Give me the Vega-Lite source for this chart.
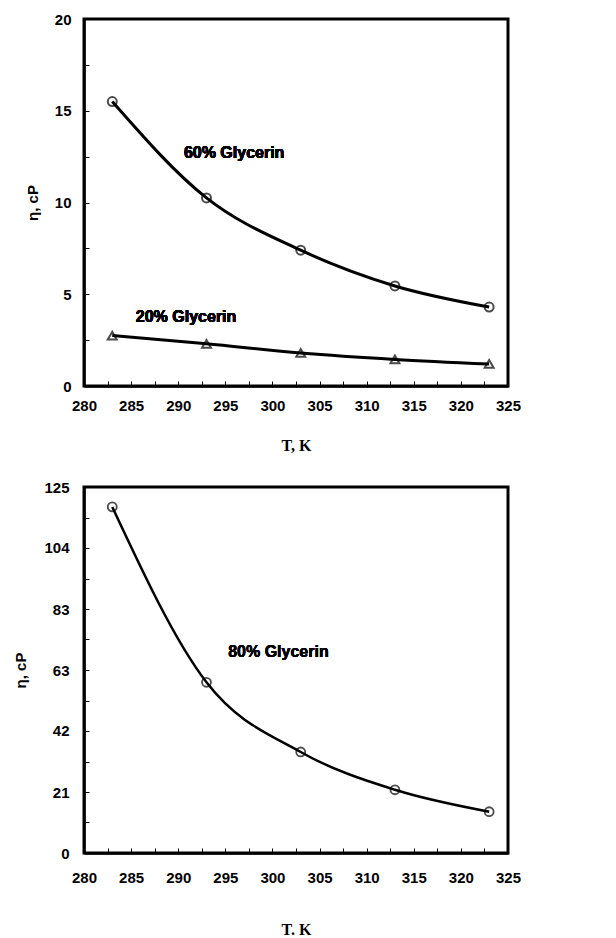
{
  "$schema": "https://vega.github.io/schema/vega-lite/v6.json",
  "background": "white",
  "padding": {"left": 12, "top": 10, "right": 0, "bottom": 0},
  "spacing": 23,
  "config": {
    "view": {"stroke": "black", "strokeWidth": 3},
    "axis": {
      "grid": false,
      "domainColor": "black",
      "domainWidth": 2.5,
      "tickColor": "black",
      "tickWidth": 1,
      "tickSize": -5,
      "labelFont": "Liberation Sans",
      "labelFontWeight": "bold",
      "labelFontSize": 15,
      "labelColor": "black",
      "labelFlush": false,
      "labelOverlap": false,
      "labelBound": false,
      "titleColor": "black"
    }
  },
  "datasets": {
    "top": [
      {"T": 283, "visc": 15.5, "series": "60% Glycerin"},
      {"T": 293, "visc": 10.25, "series": "60% Glycerin"},
      {"T": 303, "visc": 7.4, "series": "60% Glycerin"},
      {"T": 313, "visc": 5.45, "series": "60% Glycerin"},
      {"T": 323, "visc": 4.3, "series": "60% Glycerin"},
      {"T": 283, "visc": 2.75, "series": "20% Glycerin"},
      {"T": 293, "visc": 2.3, "series": "20% Glycerin"},
      {"T": 303, "visc": 1.8, "series": "20% Glycerin"},
      {"T": 313, "visc": 1.45, "series": "20% Glycerin"},
      {"T": 323, "visc": 1.2, "series": "20% Glycerin"}
    ],
    "bottom": [
      {"T": 283, "visc": 118.2, "series": "80% Glycerin"},
      {"T": 293, "visc": 58.3, "series": "80% Glycerin"},
      {"T": 303, "visc": 34.5, "series": "80% Glycerin"},
      {"T": 313, "visc": 21.6, "series": "80% Glycerin"},
      {"T": 323, "visc": 14.1, "series": "80% Glycerin"}
    ]
  },
  "vconcat": [
    {
      "width": 424,
      "height": 367,
      "data": {"name": "top"},
      "encoding": {
        "x": {
          "field": "T", "type": "quantitative",
          "scale": {"domain": [280, 325], "nice": false, "zero": false},
          "axis": {
            "title": "T, K",
            "titleFont": "Liberation Serif", "titleFontWeight": "bold", "titleFontSize": 16,
            "titlePadding": 24,
            "values": [280, 282.5, 285, 287.5, 290, 292.5, 295, 297.5, 300, 302.5, 305, 307.5, 310, 312.5, 315, 317.5, 320, 322.5, 325],
            "labelExpr": "datum.value % 5 == 0 ? datum.label : ''",
            "labelPadding": 17
          }
        },
        "y": {
          "field": "visc", "type": "quantitative",
          "scale": {"domain": [0, 20], "nice": false},
          "axis": {
            "title": "η, cP",
            "titleFont": "Liberation Sans", "titleFontWeight": "bold", "titleFontSize": 15,
            "titlePadding": 14,
            "values": [0, 2.5, 5, 7.5, 10, 12.5, 15, 17.5, 20],
            "labelExpr": "datum.value % 5 == 0 ? datum.label : ''",
            "labelPadding": 18
          }
        }
      },
      "layer": [
        {
          "mark": {"type": "line", "interpolate": "monotone", "strokeWidth": 3, "color": "black"},
          "encoding": {"detail": {"field": "series"}}
        },
        {
          "mark": {"type": "point", "filled": false, "size": 80, "strokeWidth": 2, "color": "black"},
          "encoding": {
            "shape": {
              "field": "series",
              "scale": {"domain": ["60% Glycerin", "20% Glycerin"], "range": ["circle", "triangle-up"]},
              "legend": null
            }
          }
        },
        {
          "mark": {"type": "text", "text": "60% Glycerin", "align": "left", "baseline": "middle", "font": "Liberation Sans", "fontWeight": "bold", "fontSize": 16, "color": "black"},
          "encoding": {"x": {"datum": 290.6}, "y": {"datum": 12.7}}
        },
        {
          "mark": {"type": "text", "text": "20% Glycerin", "align": "left", "baseline": "middle", "font": "Liberation Sans", "fontWeight": "bold", "fontSize": 16, "color": "black"},
          "encoding": {"x": {"datum": 285.5}, "y": {"datum": 3.76}}
        }
      ]
    },
    {
      "width": 424,
      "height": 366,
      "data": {"name": "bottom"},
      "encoding": {
        "x": {
          "field": "T", "type": "quantitative",
          "scale": {"domain": [280, 325], "nice": false, "zero": false},
          "axis": {
            "title": "T. K",
            "titleFont": "Liberation Serif", "titleFontWeight": "bold", "titleFontSize": 16,
            "titlePadding": 36,
            "values": [280, 282.5, 285, 287.5, 290, 292.5, 295, 297.5, 300, 302.5, 305, 307.5, 310, 312.5, 315, 317.5, 320, 322.5, 325],
            "labelExpr": "datum.value % 5 == 0 ? datum.label : ''",
            "labelPadding": 22
          }
        },
        "y": {
          "field": "visc", "type": "quantitative",
          "scale": {"domain": [0, 125], "nice": false},
          "axis": {
            "title": "η, cP",
            "titleFont": "Liberation Sans", "titleFontWeight": "bold", "titleFontSize": 15,
            "titlePadding": 15,
            "values": [0, 10.4167, 20.8333, 31.25, 41.6667, 52.0833, 62.5, 72.9167, 83.3333, 93.75, 104.1667, 114.5833, 125],
            "labelExpr": "abs(datum.value / 20.83333 - round(datum.value / 20.83333)) < 0.01 ? format(datum.value, '.0f') : ''",
            "labelPadding": 20
          }
        }
      },
      "layer": [
        {
          "mark": {"type": "line", "interpolate": "monotone", "strokeWidth": 2.5, "color": "black"},
          "encoding": {}
        },
        {
          "mark": {"type": "point", "shape": "circle", "filled": false, "size": 80, "strokeWidth": 1.8, "color": "black"},
          "encoding": {}
        },
        {
          "mark": {"type": "text", "text": "80% Glycerin", "align": "left", "baseline": "middle", "font": "Liberation Sans", "fontWeight": "bold", "fontSize": 16, "color": "black"},
          "encoding": {"x": {"datum": 295.3}, "y": {"datum": 68.8}}
        }
      ]
    }
  ]
}
